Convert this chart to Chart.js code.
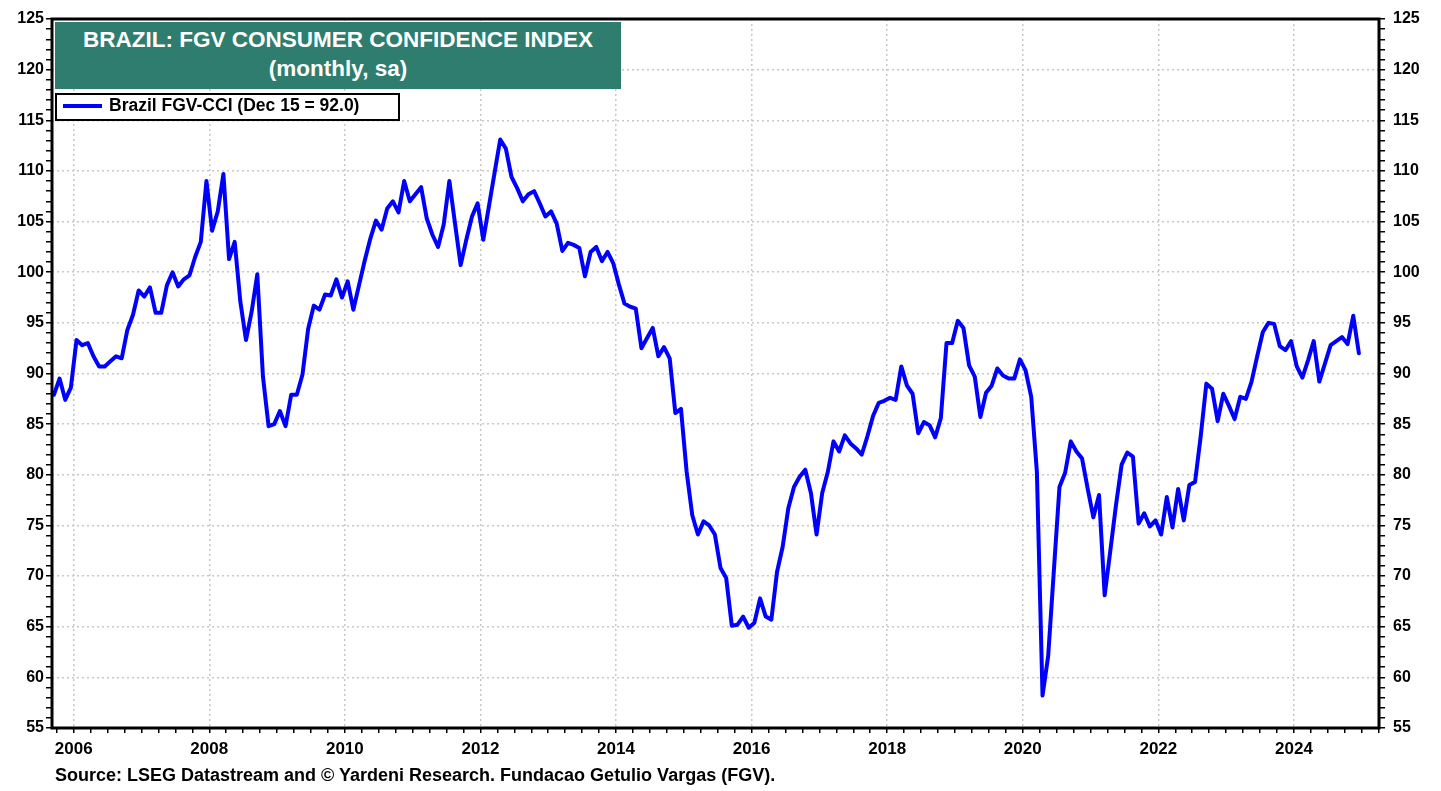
<!DOCTYPE html>
<html>
<head>
<meta charset="utf-8">
<script src="https://cdn.jsdelivr.net/npm/chart.js@4.4.1/dist/chart.umd.min.js"></script>
<style>
html,body{margin:0;padding:0;background:#fff;overflow:hidden;}
#wrap{position:relative;width:1441px;height:791px;}
#c{position:absolute;left:0;top:0;}
.ov{position:absolute;font-family:"Liberation Sans",Arial,sans-serif;font-weight:bold;}
#title{left:55px;top:22px;width:566px;height:67px;background:#2e7d6e;color:#fff;font-size:22.5px;text-align:center;line-height:29px;padding-top:3px;box-sizing:border-box;white-space:nowrap;}
#legend{left:55px;top:93px;width:345px;height:28px;border:2px solid #000;background:#fff;box-sizing:border-box;color:#000;}
#legend .sw{position:absolute;left:6px;top:9px;width:39px;height:4px;background:#0000ff;}
#legend .tx{position:absolute;left:52px;top:0px;font-size:17.5px;line-height:20px;white-space:nowrap;}
#source{left:55px;top:766px;font-size:18px;line-height:18px;color:#000;white-space:nowrap;}
</style>
</head>
<body>
<div id="wrap">
  <canvas id="c" width="1441" height="791"></canvas>
  <div id="title" class="ov">BRAZIL: FGV CONSUMER CONFIDENCE INDEX<br>(monthly, sa)</div>
  <div id="legend" class="ov"><span class="sw"></span><span class="tx" id="legtext"></span></div>
  <div id="source" class="ov">Source: LSEG Datastream and © Yardeni Research. Fundacao Getulio Vargas (FGV).</div>
</div>
<script>
// ---- Data (monthly, seasonally adjusted) ----
const seriesName = "Brazil FGV-CCI (Dec 15 = 92.0)";
const firstYear = 2005;
const firstMonth = 9; // series starts September 2005
const cci2005 = [87.9, 89.5, 87.4, 88.6];
const cci2006 = [93.3, 92.8, 93.0, 91.7, 90.7, 90.7, 91.2, 91.7, 91.5, 94.3, 95.8, 98.2];
const cci2007 = [97.6, 98.5, 96.0, 96.0, 98.7, 100.0, 98.6, 99.3, 99.7, 101.5, 103.0, 109.0];
const cci2008 = [104.1, 106.0, 109.7, 101.3, 103.0, 97.1, 93.3, 96.1, 99.8, 89.7, 84.8, 85.0];
const cci2009 = [86.3, 84.8, 87.9, 87.9, 89.9, 94.4, 96.7, 96.3, 97.8, 97.7, 99.3, 97.5];
const cci2010 = [99.1, 96.3, 98.7, 101.1, 103.3, 105.1, 104.2, 106.3, 107.0, 105.9, 109.0, 107.0];
const cci2011 = [107.7, 108.4, 105.3, 103.7, 102.5, 104.7, 109.0, 104.8, 100.7, 103.2, 105.5, 106.8];
const cci2012 = [103.2, 106.5, 109.8, 113.1, 112.2, 109.4, 108.3, 107.0, 107.7, 108.0, 106.8, 105.5];
const cci2013 = [106.0, 104.8, 102.1, 102.9, 102.7, 102.4, 99.6, 102.0, 102.5, 101.1, 102.0, 100.9];
const cci2014 = [98.8, 96.9, 96.6, 96.4, 92.5, 93.5, 94.5, 91.7, 92.6, 91.5, 86.1, 86.5];
const cci2015 = [80.3, 76.0, 74.1, 75.4, 75.0, 74.1, 70.8, 69.8, 65.1, 65.2, 66.0, 64.9];
const cci2016 = [65.4, 67.8, 66.0, 65.7, 70.4, 72.9, 76.7, 78.8, 79.8, 80.5, 78.2, 74.1];
const cci2017 = [78.2, 80.3, 83.3, 82.3, 83.9, 83.1, 82.6, 82.0, 83.8, 85.8, 87.1, 87.3];
const cci2018 = [87.6, 87.4, 90.7, 88.8, 88.0, 84.1, 85.2, 84.9, 83.7, 85.6, 93.0, 93.0];
const cci2019 = [95.2, 94.5, 90.8, 89.7, 85.7, 88.1, 88.8, 90.5, 89.8, 89.5, 89.5, 91.4];
const cci2020 = [90.3, 87.7, 80.3, 58.2, 62.1, 70.5, 78.8, 80.2, 83.3, 82.3, 81.6, 78.6];
const cci2021 = [75.8, 78.0, 68.1, 72.5, 77.0, 81.0, 82.2, 81.8, 75.2, 76.2, 74.9, 75.5];
const cci2022 = [74.1, 77.8, 74.8, 78.6, 75.5, 79.0, 79.3, 83.8, 89.0, 88.5, 85.3, 88.0];
const cci2023 = [86.8, 85.5, 87.7, 87.5, 89.2, 91.7, 94.1, 95.0, 94.9, 92.7, 92.3, 93.2];
const cci2024 = [90.7, 89.6, 91.3, 93.2, 89.2, 91.0, 92.8, 93.2, 93.6, 92.9, 95.7, 92.0];

// ---- Tick labels ----
const xTickYears = [2006, 2008, 2010, 2012, 2014, 2016, 2018, 2020, 2022, 2024];
const yTickLabels = [55, 60, 65, 70, 75, 80, 85, 90, 95, 100, 105, 110, 115, 120, 125];

const yearly = [cci2005, cci2006, cci2007, cci2008, cci2009, cci2010, cci2011, cci2012,
  cci2013, cci2014, cci2015, cci2016, cci2017, cci2018, cci2019, cci2020, cci2021,
  cci2022, cci2023, cci2024];

const points = [];
yearly.forEach((arr, yi) => {
  const yr = firstYear + yi;
  const m0 = yi === 0 ? firstMonth : 1;
  arr.forEach((v, k) => {
    const m = m0 + k;
    points.push({ x: yr + (m - 0.5) / 12, y: v });
  });
});

const X_MIN = 2005.68, X_MAX = 2025.255;
const Y_MIN = 55, Y_MAX = 125;
const FONT = '"Liberation Sans", Arial, sans-serif';
const GRID = '#c8c8c8';

const quarterTicks = [];
for (let v = 2005.75; v <= X_MAX + 1e-9; v += 0.25) quarterTicks.push(Math.round(v * 100) / 100);
const unitTicks = [];
for (let v = Y_MIN; v <= Y_MAX; v++) unitTicks.push(v);

document.getElementById('legtext').textContent = seriesName;

const framePlugin = {
  id: 'frame',
  afterDraw(chart) {
    const { ctx, chartArea: a } = chart;
    ctx.save();
    ctx.strokeStyle = '#000';
    ctx.lineWidth = 3;
    ctx.setLineDash([]);
    ctx.strokeRect(a.left, a.top, a.right - a.left, a.bottom - a.top);
    ctx.restore();
  }
};

function yAxis(position, width, padding) {
  return {
    type: 'linear',
    position: position,
    min: Y_MIN, max: Y_MAX,
    afterBuildTicks(s) { s.ticks = unitTicks.map(v => ({ value: v })); },
    afterFit(s) { s.width = width; },
    ticks: {
      autoSkip: false,
      padding: padding,
      color: '#000',
      font: { family: FONT, size: 16, weight: 'bold' },
      callback: (v) => yTickLabels.includes(v) ? String(v) : ''
    },
    grid: {
      drawOnChartArea: position === 'left',
      color: (c) => (c.tick && yTickLabels.includes(c.tick.value)) ? GRID : 'rgba(0,0,0,0)',
      lineWidth: 1.5,
      borderDash: [2, 3],
      tickColor: '#000',
      tickLength: 6,
      tickWidth: 1.5
    },
    border: { display: false, dash: [2, 3] }
  };
}

new Chart(document.getElementById('c'), {
  type: 'line',
  data: {
    datasets: [{
      label: seriesName,
      data: points,
      borderColor: '#0000ff',
      backgroundColor: '#0000ff',
      borderWidth: 4,
      pointRadius: 0,
      tension: 0,
      borderJoinStyle: 'round',
      borderCapStyle: 'round'
    }]
  },
  options: {
    responsive: false,
    animation: false,
    layout: { padding: { top: 19, left: 0, right: 0, bottom: 0 } },
    plugins: { legend: { display: false }, tooltip: { enabled: false } },
    scales: {
      x: {
        type: 'linear',
        min: X_MIN, max: X_MAX,
        afterBuildTicks(s) { s.ticks = quarterTicks.map(v => ({ value: v })); },
        afterFit(s) { s.height = 63; },
        ticks: {
          autoSkip: false, maxRotation: 0, minRotation: 0,
          padding: 6,
          color: '#000',
          font: { family: FONT, size: 17, weight: 'bold' },
          callback: (v) => xTickYears.includes(v) ? String(v) : ''
        },
        grid: {
          color: (c) => (c.tick && xTickYears.includes(c.tick.value)) ? GRID : 'rgba(0,0,0,0)',
          lineWidth: 1.5,
          borderDash: [2, 3],
          tickColor: '#000',
          tickLength: 5,
          tickWidth: 1.5
        },
        border: { display: false, dash: [2, 3] }
      },
      y: yAxis('left', 52, 2),
      y2: yAxis('right', 62, 8)
    }
  },
  plugins: [framePlugin]
});
</script>
</body>
</html>
